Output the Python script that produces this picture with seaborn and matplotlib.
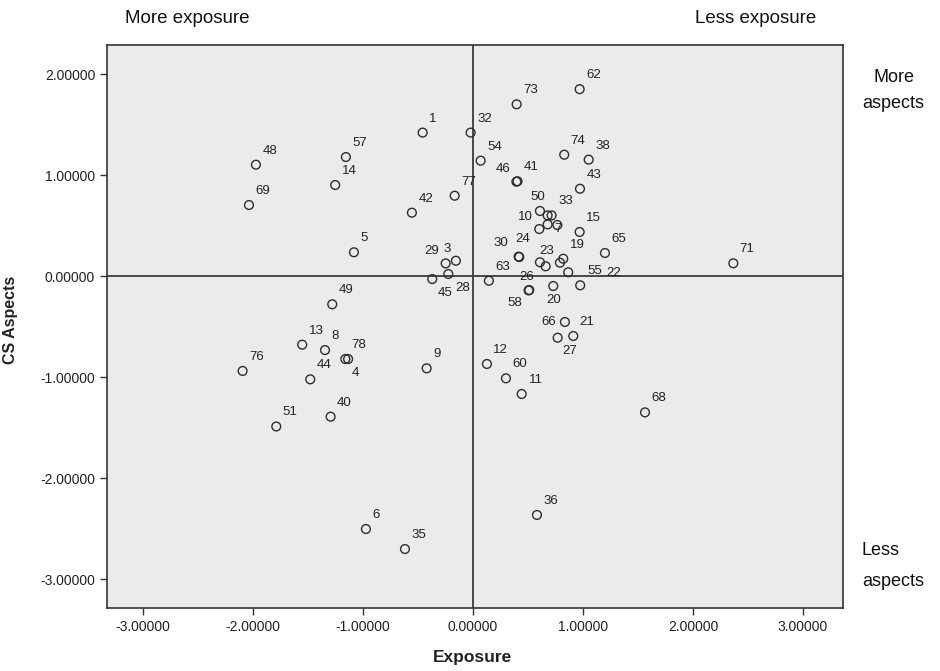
import matplotlib
matplotlib.use("Agg")
import matplotlib.pyplot as plt
import seaborn as sns
import numpy as np
import pandas as pd
from matplotlib.ticker import FormatStrFormatter

# ---- data ----
labels = ["62", "73", "1", "32", "54", "74", "38", "46", "41", "43", "77", "42",
          "50", "33", "", "", "10", "7", "15", "65", "24", "30", "23", "", "19", "",
          "55", "22", "20", "26", "58", "63", "29", "3", "28", "45", "66", "21", "27",
          "12", "60", "11", "9", "68", "71", "36", "35", "6", "48", "69", "57", "14",
          "5", "49", "13", "8", "78", "4", "76", "44", "40", "51"]
exposure = [0.970, 0.397, -0.457, -0.021, 0.070, 0.830, 1.052, 0.395, 0.405, 0.973, -0.166, -0.555,
            0.609, 0.715, 0.679, 0.679, 0.603, 0.767, 0.970, 1.200, 0.421, 0.415, 0.609, 0.661, 0.821, 0.791,
            0.866, 0.975, 0.730, 0.512, 0.506, 0.145, -0.248, -0.155, -0.224, -0.370, 0.836, 0.912, 0.770,
            0.127, 0.300, 0.443, -0.421, 1.564, 2.367, 0.582, -0.618, -0.973, -1.973, -2.036, -1.155, -1.252,
            -1.082, -1.279, -1.552, -1.345, -1.160, -1.135, -2.094, -1.479, -1.294, -1.788]
cs_aspects = [1.850, 1.700, 1.420, 1.420, 1.142, 1.201, 1.152, 0.934, 0.938, 0.864, 0.795, 0.627,
              0.644, 0.600, 0.600, 0.511, 0.465, 0.505, 0.436, 0.228, 0.188, 0.192, 0.136, 0.096, 0.171, 0.132,
              0.037, -0.092, -0.099, -0.139, -0.143, -0.047, 0.125, 0.151, 0.020, -0.030, -0.455, -0.594, -0.611,
              -0.871, -1.013, -1.168, -0.914, -1.350, 0.126, -2.366, -2.703, -2.505, 1.102, 0.703, 1.178, 0.901,
              0.235, -0.280, -0.680, -0.733, -0.822, -0.822, -0.940, -1.023, -1.393, -1.490]
x_ticks = [-3, -2, -1, 0, 1, 2, 3]
y_ticks = [-3, -2, -1, 0, 1, 2]

df = pd.DataFrame({"Exposure": exposure, "CS Aspects": cs_aspects, "label": labels})

# ---- label placement (pixel offsets of label centre from point; +dy = down) ----
label_offsets = {
    "10": (-14, -12), "7": (1, 4), "50": (-2, -14), "46": (-13, -13), "30": (-18, -14),
    "24": (3, -18), "23": (7, -11), "55": (27, -1), "22": (33, -12), "26": (-3, -13),
    "58": (-14, 13), "20": (0, 14), "29": (-14, -12), "3": (-9, -12), "45": (13, 14),
    "28": (14, 14), "66": (-16, 0), "27": (12, 13), "4": (7, 14),
}

sns.set_theme(style="white")
plt.rcParams["font.family"] = ["Liberation Sans", "DejaVu Sans"]

fig = plt.figure(figsize=(9.4, 6.71), dpi=100)
ax = fig.add_axes([0.1138, 0.0939, 0.7830, 0.8390])
ax.set_facecolor("#EBEBEB")

ax.axhline(0, color="#3a3a3a", lw=1.3, zorder=1)
ax.axvline(0, color="#3a3a3a", lw=1.3, zorder=1)

sns.scatterplot(data=df, x="Exposure", y="CS Aspects", ax=ax, marker="o", s=40,
                facecolor="none", edgecolor="#2e2e2e", linewidth=1.0, zorder=3)

for lab, xv, yv in zip(labels, exposure, cs_aspects):
    if not lab:
        continue
    if lab in label_offsets:
        dx, dy = label_offsets[lab]
    else:
        dx, dy = 7 + 3.4 * len(lab), -14
    ax.annotate(lab, (xv, yv), xytext=(dx, -dy), textcoords="offset pixels",
                ha="center", va="center", fontsize=9.5, color="#222222", zorder=4)

ax.set_xlim(-3.327, 3.364)
ax.set_ylim(-3.287, 2.287)
ax.set_xticks(x_ticks)
ax.set_yticks(y_ticks)
ax.xaxis.set_major_formatter(FormatStrFormatter("%.5f"))
ax.yaxis.set_major_formatter(FormatStrFormatter("%.5f"))
ax.tick_params(axis="both", which="major", direction="out", length=5, width=1,
               color="#333333", labelsize=10, labelcolor="#222222", bottom=True, left=True)
for sp in ax.spines.values():
    sp.set_color("#333333")
    sp.set_linewidth(1.2)

ax.set_xlabel("Exposure", fontsize=12.5, fontweight="bold", color="#222222")
ax.set_ylabel("CS Aspects", fontsize=11.5, fontweight="bold", color="#222222")
ax.xaxis.set_label_coords(0.497, -0.075)
ax.yaxis.set_label_coords(-0.121, 0.512)

fig.text(0.133, 0.973, "More exposure", fontsize=13.5, color="#111111", va="center", ha="left")
fig.text(0.739, 0.973, "Less exposure", fontsize=13.5, color="#111111", va="center", ha="left")
fig.text(0.929, 0.885, "More", fontsize=13, color="#111111", va="center", ha="left")
fig.text(0.917, 0.846, "aspects", fontsize=13, color="#111111", va="center", ha="left")
fig.text(0.917, 0.180, "Less", fontsize=13, color="#111111", va="center", ha="left")
fig.text(0.917, 0.133, "aspects", fontsize=13, color="#111111", va="center", ha="left")

fig.savefig("out.png", dpi=100, facecolor="white")
